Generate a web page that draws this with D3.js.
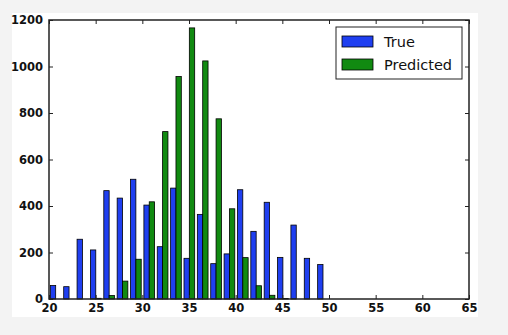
<!DOCTYPE html>
<html>
<head>
<meta charset="utf-8">
<script src="https://cdn.jsdelivr.net/npm/d3@7"></script>
<style>
  body { margin: 0; background: #f3f3f3; }
  svg { display: block; }
  text { font-family: "DejaVu Sans", sans-serif; fill: #111; }
</style>
</head>
<body>
<script>
// histogram data, one count per bin
var binStart = 20;
var binWidth = 1.432;
var trueCounts = [58, 53, 257, 211, 466, 434, 515, 404, 225, 477, 175, 364, 152, 194, 470, 291, 416, 179, 318, 175, 148, 0, 0, 0, 0, 0, 0, 0, 0, 0, 0];
var predCounts = [0, 0, 0, 3, 15, 77, 171, 418, 720, 957, 1166, 1024, 775, 388, 178, 57, 16, 2, 0, 0, 0, 0, 0, 0, 0, 0, 0, 0, 0, 0, 0];
var xTicks = [20, 25, 30, 35, 40, 45, 50, 55, 60, 65];
var yTicks = [0, 200, 400, 600, 800, 1000, 1200];
var seriesNames = ["True", "Predicted"];
var seriesColors = ["#1f3ff0", "#118a11"];

// layout
var p = {
    width: 508,
    height: 335,
    left: 49,
    right: 469,
    top: 20,
    bottom: 299,
};

var svg = d3.select("body").append("svg").attr("width", p.width).attr("height", p.height);

// white figure area
svg.append("rect").attr("x", 12).attr("y", 13).attr("width", 466).attr("height", 304).attr("fill", "#fff");

var x = d3.scaleLinear().domain([20, 65]).range([p.left, p.right]);
var y = d3.scaleLinear().domain([0, 1200]).range([p.bottom, p.top]);

// bars, matplotlib style: 0.8 of bin split between series
var series = [trueCounts, predCounts];
var barsLayer = svg.append("g");
series.forEach(function(counts, s) {
    barsLayer.selectAll(null).data(counts).enter().append("rect")
        .attr("x", function(d, i) { return x(binStart + binWidth * (i + 0.1 + 0.4 * s)); })
        .attr("width", x(binStart + binWidth * 0.4) - x(binStart))
        .attr("y", function(d) { return y(d); })
        .attr("height", function(d) { return y(0) - y(d); })
        .attr("fill", seriesColors[s])
        .attr("stroke", "#000")
        .attr("stroke-width", 0.8);
});

// axes with inward ticks on all sides
var bottomAxis = d3.axisBottom(x).tickValues(xTicks).tickSize(-4).tickPadding(5).tickFormat(d3.format("d"));
var topAxis = d3.axisTop(x).tickValues(xTicks).tickSize(-4).tickFormat("");
var leftAxis = d3.axisLeft(y).tickValues(yTicks).tickSize(-4).tickPadding(6).tickFormat(d3.format("d"));
var rightAxis = d3.axisRight(y).tickValues(yTicks).tickSize(-4).tickFormat("");

function styleAxis(g) {
    g.select(".domain").remove();
    g.selectAll("line").attr("stroke", "#222").attr("stroke-width", 1);
    g.selectAll("text").attr("font-size", 11.5).attr("font-weight", "bold")
        .attr("font-family", "DejaVu Sans").attr("fill", "#111");
}

svg.append("g").attr("transform", "translate(0," + p.bottom + ")").call(bottomAxis).call(styleAxis);
svg.append("g").attr("transform", "translate(0," + p.top + ")").call(topAxis).call(styleAxis);
svg.append("g").attr("transform", "translate(" + p.left + ",0)").call(leftAxis).call(styleAxis);
svg.append("g").attr("transform", "translate(" + p.right + ",0)").call(rightAxis).call(styleAxis);

// frame
svg.append("rect").attr("x", p.left).attr("y", p.top)
    .attr("width", p.right - p.left).attr("height", p.bottom - p.top)
    .attr("fill", "none").attr("stroke", "#222").attr("stroke-width", 1.5);

// legend
var legend = svg.append("g").attr("transform", "translate(336,27)");
legend.append("rect").attr("width", 126).attr("height", 52)
    .attr("fill", "#fff").attr("stroke", "#222").attr("stroke-width", 1);
seriesNames.forEach(function(name, i) {
    legend.append("rect").attr("x", 6).attr("y", 9 + i * 23).attr("width", 31).attr("height", 11)
        .attr("fill", seriesColors[i]).attr("stroke", "#000").attr("stroke-width", 0.8);
    legend.append("text").attr("x", 48).attr("y", 20 + i * 23)
        .attr("font-size", 14.5).text(name);
});
</script>
</body>
</html>
